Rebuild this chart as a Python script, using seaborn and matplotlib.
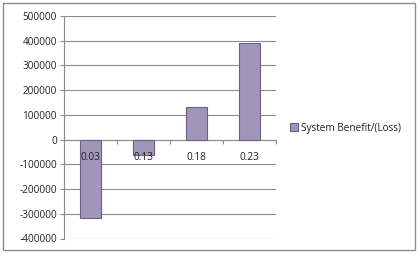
import matplotlib
matplotlib.use("Agg")
import matplotlib.pyplot as plt
import seaborn as sns
import pandas as pd
from matplotlib.patches import Rectangle
from matplotlib.ticker import FixedLocator

categories = ["0.03", "0.13", "0.18", "0.23"]
values = [-316000, -63000, 133000, 392000]
series_name = "System Benefit/(Loss)"
yticks = [-400000, -300000, -200000, -100000, 0, 100000, 200000, 300000, 400000, 500000]

df = pd.DataFrame({"cat": categories, "val": values, "series": series_name})

sns.set_theme(style="white")
plt.rcParams['font.family'] = ['Open Sans', 'DejaVu Sans']

fig = plt.figure(figsize=(4.2, 2.56), dpi=100)
ax = fig.add_axes([64/420, 1-238.5/256, 212/420, (238.5-16)/256])

bar_color = "#9f90be"
sns.barplot(data=df, x="cat", y="val", hue="series", palette=[bar_color],
            width=0.41, edgecolor="#6c5f86", linewidth=0.8, ax=ax, legend=True)

fs = 7.2
ax.set_ylim(-400000, 500000)
ax.set_xlim(-0.5, 3.5)
ax.set_yticks(yticks)
ax.set_yticklabels([str(t) for t in yticks], fontsize=fs, color="#222222")
ax.grid(False)
for t in yticks:
    ax.axhline(t, color="#8c8c8c", linewidth=0.8, zorder=0.3)
ax.set_axisbelow(False)
ax.set_xlabel("")
ax.set_ylabel("")

for s in ["top", "right"]:
    ax.spines[s].set_visible(False)
ax.spines["left"].set_color("#8c8c8c")
ax.spines["left"].set_linewidth(0.8)
ax.spines["bottom"].set_position(("data", 0))
ax.spines["bottom"].set_color("#8c8c8c")
ax.spines["bottom"].set_linewidth(0.8)
ax.spines["bottom"].set_zorder(0.4)

ax.tick_params(axis="y", which="major", length=3, width=0.8, color="#8c8c8c", pad=2, left=True)
ax.tick_params(axis="x", which="major", length=0, pad=9, labelsize=fs, labelcolor="#222222")
ax.xaxis.set_minor_locator(FixedLocator([0.5, 1.5, 2.5, 3.5]))
ax.tick_params(axis="x", which="minor", length=3, width=0.8, color="#8c8c8c", bottom=True)

leg = ax.legend(loc="center left", bbox_to_anchor=(290/420, 1-128/256),
                bbox_transform=fig.transFigure, frameon=False, fontsize=fs,
                handlelength=0.8, handleheight=0.8, handletextpad=0.3,
                borderpad=0, borderaxespad=0)
for t in leg.get_texts():
    t.set_color("#222222")

fig.patches.append(Rectangle((3/420, 1-250/256), 412/420, 247/256,
                             transform=fig.transFigure, fill=False,
                             edgecolor="#8c8c8c", linewidth=1.0))

fig.savefig("out.png", dpi=100)
